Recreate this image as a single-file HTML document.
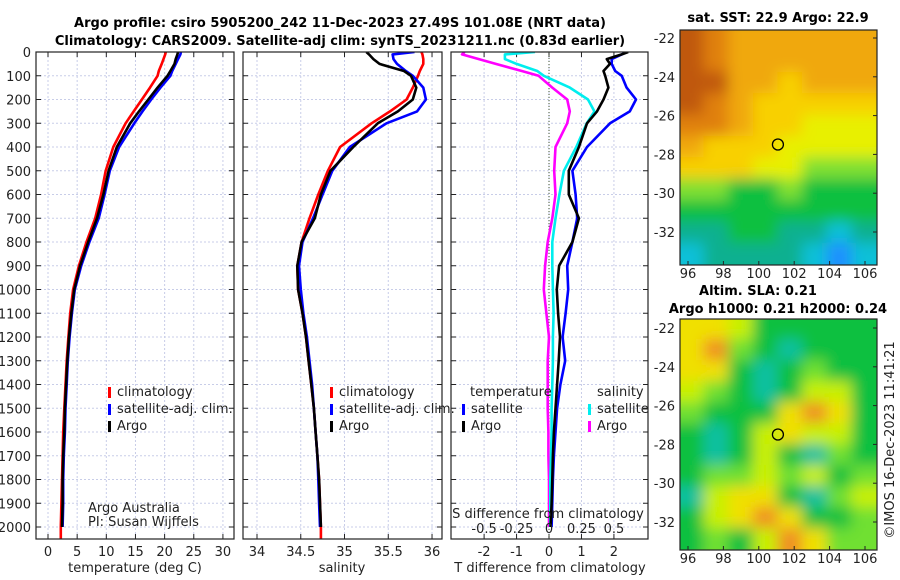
<!DOCTYPE html>
<html><head><meta charset="utf-8">
<style>
html,body{margin:0;padding:0;background:#fff;}
svg{display:block;font-family:"DejaVu Sans","Liberation Sans",sans-serif;}
.t{font-size:13px;fill:#222;}
.b{font-size:13px;font-weight:bold;fill:#000;}
</style></head>
<body>
<svg id="fig" width="900" height="580" viewBox="0 0 900 580" xmlns="http://www.w3.org/2000/svg">
<defs>
<filter id="blur" filterUnits="userSpaceOnUse" x="640" y="0" width="260" height="580"><feGaussianBlur stdDeviation="7"/></filter>
<clipPath id="c1"><rect x="36" y="52" width="198" height="487"/></clipPath>
<clipPath id="c2"><rect x="243" y="52" width="199" height="487"/></clipPath>
<clipPath id="c3"><rect x="451" y="52" width="197" height="487"/></clipPath>
<clipPath id="cm1"><rect x="680" y="30" width="197" height="235"/></clipPath>
<clipPath id="cm2"><rect x="680" y="319" width="197" height="231"/></clipPath>
</defs>
<text class="b" x="340" y="27" text-anchor="middle">Argo profile: csiro 5905200_242 11-Dec-2023 27.49S 101.08E (NRT data)</text>
<text class="b" x="340" y="45" text-anchor="middle">Climatology: CARS2009. Satellite-adj clim: synTS_20231211.nc (0.83d earlier)</text>
<g id="g"></g>
</svg>
<script>
const depths = [0,10,30,50,80,100,150,200,250,300,400,500,600,700,800,900,1000,1100,1200,1300,1400,1500,1600,1700,1800,1900,2000];
const climDepths = depths.concat([2050]);
const tClim = [20.2,20.1,19.8,19.5,19.0,18.8,17.5,16.1,14.7,13.3,11.2,9.9,9.1,8.1,6.6,5.3,4.3,3.8,3.5,3.2,3.0,2.8,2.6,2.5,2.4,2.3,2.2,2.2];
const tSat = [22.8,22.7,22.3,21.9,21.3,21.0,19.3,17.7,16.2,14.8,12.2,10.6,9.7,8.7,7.1,5.7,4.6,4.1,3.7,3.4,3.2,3.0,2.9,2.7,2.6,2.6,2.5];
const tArgo = [22.3,22.2,21.9,21.7,21.0,20.5,18.8,17.2,15.6,14.1,11.8,10.4,9.5,8.4,6.9,5.5,4.5,4.0,3.6,3.3,3.1,2.9,2.8,2.6,2.5,2.5,2.4];
const sClim = [35.88,35.89,35.90,35.90,35.86,35.84,35.78,35.71,35.52,35.31,34.95,34.81,34.70,34.60,34.51,34.46,34.47,34.52,34.56,34.59,34.62,34.65,34.67,34.69,34.71,34.72,34.73,34.73];
const sSat = [35.80,35.55,35.56,35.60,35.70,35.78,35.90,35.93,35.83,35.48,35.06,34.86,34.75,34.64,34.52,34.48,34.50,34.53,34.57,34.60,34.63,34.65,34.67,34.69,34.70,34.71,34.72];
const sArgo = [35.25,35.28,35.33,35.40,35.68,35.76,35.82,35.78,35.61,35.38,35.10,34.84,34.73,34.66,34.51,34.46,34.47,34.52,34.56,34.59,34.62,34.65,34.67,34.69,34.71,34.72,34.73];
const dtArgo = [2.44,2.24,1.78,1.88,1.68,1.73,1.83,1.68,1.48,1.17,0.92,0.61,0.61,0.92,0.72,0.31,0.24,0.28,0.34,0.30,0.25,0.20,0.15,0.12,0.10,0.08,0.05];
const dtSat = [2.40,2.24,1.93,1.93,2.04,2.24,2.39,2.68,2.49,1.88,1.17,0.72,0.82,0.87,0.72,0.56,0.59,0.51,0.42,0.50,0.35,0.25,0.20,0.15,0.12,0.10,0.08];
const dsSat = [-0.108,-0.34,-0.34,-0.25,-0.09,-0.04,0.16,0.30,0.35,0.29,0.21,0.115,0.08,0.05,0.025,0.025,0.03,0.035,0.03,0.03,0.025,0.02,0.02,0.015,0.01,0.01,0.01];
const dsArgo = [-0.65,-0.67,-0.54,-0.41,-0.21,-0.08,0.025,0.14,0.16,0.14,0.05,0.04,0.05,0.025,-0.01,-0.03,-0.04,-0.02,0,-0.01,-0.01,-0.01,-0.005,-0.005,0,0,0];
const depthTicks = [0,100,200,300,400,500,600,700,800,900,1000,1100,1200,1300,1400,1500,1600,1700,1800,1900,2000];
const tTicks = [0,5,10,15,20,25,30];
const sTicks = [34,34.5,35,35.5,36];
const sTickLabels = ["34","34.5","35","35.5","36"];
const dTicks = [-2,-1,0,1,2];
const dTickLabels = ["-2","-1","0","1","2"];
const dsTicks = [-0.5,-0.25,0,0.25,0.5];
const dsTickLabels = ["-0.5","-0.25","0","0.25","0.5"];
const lonTicks = [96,98,100,102,104,106];
const latTicks = [-22,-24,-26,-28,-30,-32];
const sstGrid = [
[9,8,7,7,7,7,7,7],[9,8,7,7,7,7,7,7],[9,9,7,7,6,7,7,7],[9,8,7,6,6,6,6,6],
[8,8,7,6,6,5,5,5],[7,6,6,6,5,5,5,5],[6,6,6,5,5,4,4,4],[4,4,3,3,4,3,3,3],
[3,3,3,3,3,3,3,3],[2,2,3,3,2,2,1,2],[1,2,2,2,2,1,0,1]];
const slaGrid = [
[4,4,3,1,1,1,1,1],[4,5,2,1,0,1,1,1],[4,4,1,0,1,2,1,1],[3,2,1,0,1,3,3,1],
[2,1,1,1,4,5,4,1],[1,0,1,3,4,3,3,1],[1,0,1,3,1,0,2,1],[1,2,2,3,2,3,1,2],
[0,3,4,4,1,0,2,3],[1,3,4,5,4,1,1,2],[1,2,1,3,5,4,2,2]];
const argoLon = 101.08, argoLat = -27.49;

const NS="http://www.w3.org/2000/svg";
const G=document.getElementById('g');
function mk(tag,attrs,parent){const e=document.createElementNS(NS,tag);for(const k in attrs)e.setAttribute(k,attrs[k]);(parent||G).appendChild(e);return e;}
function txt(x,y,s,cls,anchor,parent){const e=mk('text',{x:x,y:y,class:cls||'t','text-anchor':anchor||'middle'},parent);e.textContent=s;return e;}
const yD = d => 52 + d*0.2375;

function panel(name,x0,x1,xmin,xmax,clip){
  const sx = v => x0 + (v-xmin)/(xmax-xmin)*(x1-x0);
  const g=mk('g',{});
  
  
  return {g,sx,x0,x1,clip};
}
function grid(p,xt){
  const gg=mk('g',{},p.g);
  
  
  depthTicks.forEach(d=>{mk('line',{x1:p.x0,x2:p.x1,y1:yD(d),y2:yD(d),stroke:'#c8cde8','stroke-width':1,'stroke-dasharray':'2,2'},gg);
    mk('line',{x1:p.x0,x2:p.x0+5,y1:yD(d),y2:yD(d),stroke:'#222'},gg);
    mk('line',{x1:p.x1-5,x2:p.x1,y1:yD(d),y2:yD(d),stroke:'#222'},gg);});
  xt.forEach(v=>{const x=p.sx(v);mk('line',{x1:x,x2:x,y1:52,y2:539,stroke:'#c8cde8','stroke-width':1,'stroke-dasharray':'2,2'},gg);
    mk('line',{x1:x,x2:x,y1:539,y2:534,stroke:'#222'},gg);mk('line',{x1:x,x2:x,y1:52,y2:57,stroke:'#222'},gg);});
}
function frame(p){mk('rect',{x:p.x0,y:52,width:p.x1-p.x0,height:487,fill:'none',stroke:'#222','stroke-width':1.2},p.g);}
function line(p,vals,ds,color,name,sx){
  const f=sx||p.sx;
  const pts=vals.map((v,i)=>f(v).toFixed(1)+','+yD(ds[i]).toFixed(1)).join(' ');
  const e=mk('polyline',{points:pts,fill:'none',stroke:color,'stroke-width':2.6,'stroke-linejoin':'round','clip-path':'url(#'+p.clip+')'},p.g);
  
  
}
function legendItem(p,x,y,color,label,name){
  const g=mk('g',{},p.g);
  
  
  mk('rect',{x:x,y:y-9,width:3,height:11,fill:color},g);
  txt(x+9,y,label,'t','start',g);
}

// Panel 1 temperature
const p1=panel('temperature-panel',36,234,-2.06,31.9,'c1');
grid(p1,tTicks);
depthTicks.forEach(d=>{const e=txt(31,yD(d)+5,String(d),'t','end');});
tTicks.forEach(v=>txt(p1.sx(v),556,String(v)));
txt(135,572,'temperature (deg C)');
line(p1,tClim,climDepths,'#ff0000','temp-climatology-line');
line(p1,tSat,depths,'#0000ff','temp-satellite-line');
line(p1,tArgo,depths,'#000000','temp-argo-line');
legendItem(p1,108,396,'#ff0000','climatology','legend-climatology');
legendItem(p1,108,413,'#0000ff','satellite-adj. clim.','legend-satellite');
legendItem(p1,108,430,'#000000','Argo','legend-argo');
txt(88,512,'Argo Australia','t','start').setAttribute('font-size','11');
txt(88,526,'PI: Susan Wijffels','t','start').setAttribute('font-size','11');
frame(p1);

// Panel 2 salinity
const p2=panel('salinity-panel',243,442,33.84,36.114,'c2');
grid(p2,sTicks);
sTicks.forEach((v,i)=>txt(p2.sx(v),556,sTickLabels[i]));
txt(342,572,'salinity');
line(p2,sClim,climDepths,'#ff0000','sal-climatology-line');
line(p2,sSat,depths,'#0000ff','sal-satellite-line');
line(p2,sArgo,depths,'#000000','sal-argo-line');
legendItem(p2,330,396,'#ff0000','climatology','legend-climatology-2');
legendItem(p2,330,413,'#0000ff','satellite-adj. clim.','legend-satellite-2');
legendItem(p2,330,430,'#000000','Argo','legend-argo-2');
frame(p2);

// Panel 3 differences
const p3=panel('difference-panel',451,648,-3.02,3.05,'c3');
grid(p3,dTicks);
const sxS = v => p3.sx(v*4);
mk('line',{x1:p3.sx(0),x2:p3.sx(0),y1:52,y2:539,stroke:'#445533','stroke-width':1,'stroke-dasharray':'1,2'},p3.g);
dTicks.forEach((v,i)=>txt(p3.sx(v),556,dTickLabels[i]));
dsTicks.forEach((v,i)=>txt(sxS(v),533,dsTickLabels[i]));
txt(548,518,'S difference from climatology');
txt(550,572,'T difference from climatology');
line(p3,dsArgo,depths,'#ff00ff','s-diff-argo-line',sxS);
line(p3,dsSat,depths,'#00eeee','s-diff-satellite-line',sxS);
line(p3,dtSat,depths,'#0000ff','t-diff-satellite-line');
line(p3,dtArgo,depths,'#000000','t-diff-argo-line');
txt(470,396,'temperature','t','start');
txt(597,396,'salinity','t','start');
legendItem(p3,462,413,'#0000ff','satellite','legend-t-satellite');
legendItem(p3,462,430,'#000000','Argo','legend-t-argo');
legendItem(p3,588,413,'#00eeee','satellite','legend-s-satellite');
legendItem(p3,588,430,'#ff00ff','Argo','legend-s-argo');
frame(p3);

// Maps
const sstCols=['#1e90ff','#10c0d8','#10b090','#10c040','#80e030','#e8f000','#f8d000','#f0a810','#e08010','#c05810'];
const slaCols=['#10c0a0','#10c040','#70e030','#c8f000','#f0e000','#f09020'];
function map(name,x0,y0,w,h,gridv,cols,clip,latT0){
  const g=mk('g',{});
  
  
  const inner=mk('g',{'clip-path':'url(#'+clip+')'},g);
  mk('rect',{x:x0,y:y0,width:w,height:h,fill:cols[3]},inner);
  const bl=mk('g',{filter:'url(#blur)'},inner);
  const nr=gridv.length,nc=gridv[0].length,cw=w/nc,ch=h/nr;
  gridv.forEach((row,r)=>row.forEach((v,c)=>{
    const ex=(c===0?-12:0), ey=(r===0?-12:0);
    const ew=(c===nc-1?12:0)-ex, eh=(r===nr-1?12:0)-ey;
    mk('rect',{x:x0+c*cw-1+ex,y:y0+r*ch-1+ey,width:cw+2+ew,height:ch+2+eh,fill:cols[v]},bl);
  }));
  const lx = lon => 688 + (lon-96)*17.7;
  const ly = lat => latT0 + (-22-lat)*19.4;
  const cc=mk('circle',{cx:lx(argoLon),cy:ly(argoLat),r:5.5,fill:'none',stroke:'#000','stroke-width':1.3},g);
  
  
  mk('rect',{x:x0,y:y0,width:w,height:h,fill:'none',stroke:'#222','stroke-width':1.2},g);
  lonTicks.forEach(v=>{mk('line',{x1:lx(v),x2:lx(v),y1:y0+h,y2:y0+h-4,stroke:'#222'},g);txt(lx(v),y0+h+13,String(v),'t','middle',g);});
  latTicks.forEach(v=>{mk('line',{x1:x0+w,x2:x0+w-4,y1:ly(v),y2:ly(v),stroke:'#222'},g);txt(x0-5,ly(v)+5,String(v),'t','end',g);});
}
map('sst-map',680,30,197,235,sstGrid,sstCols,'cm1',38);
map('sla-map',680,319,197,231,slaGrid,slaCols,'cm2',328);
txt(778,22,'sat. SST: 22.9 Argo: 22.9','b');
txt(758,295,'Altim. SLA: 0.21','b');
txt(778,313,'Argo h1000: 0.21 h2000: 0.24','b');
const cr=txt(0,0,'\u00a9IMOS 16-Dec-2023 11:41:21','t','middle');
cr.setAttribute('transform','translate(894,440) rotate(-90)');


</script>
</body></html>
